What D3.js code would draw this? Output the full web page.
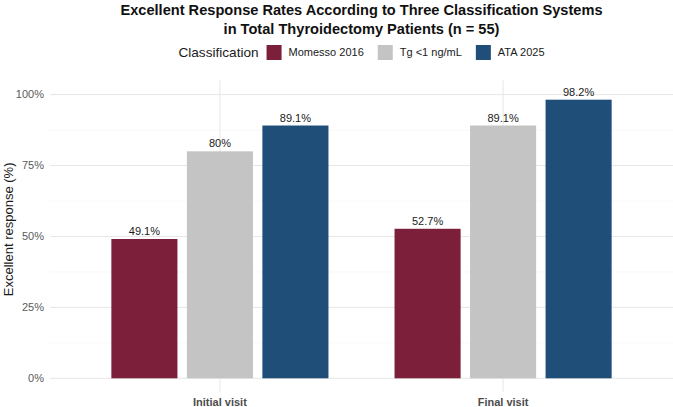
<!DOCTYPE html>
<html>
<head>
<meta charset="utf-8">
<script src="https://cdn.jsdelivr.net/npm/d3@7"></script>
<style>
  body { margin: 0; background: #fff; }
  svg { display: block; font-family: "Liberation Sans", Arial, sans-serif; }
</style>
</head>
<body>
<div id="chart"></div>
<script>
// --- data ---
const visits = ["Initial visit", "Final visit"];
const systems = ["Momesso 2016", "Tg <1 ng/mL", "ATA 2025"];
const momesso = [49.1, 52.7];
const tgBelow1 = [80, 89.1];
const ata2025 = [89.1, 98.2];
const yTicks = [0, 25, 50, 75, 100];
const yMinor = [12.5, 37.5, 62.5, 87.5];
const colors = ["#7B1F3A", "#C4C4C4", "#1F4E79"];

const seriesValues = [momesso, tgBelow1, ata2025];
const rows = [];
visits.forEach((v, i) => {
    systems.forEach((s, j) => rows.push({ visit: v, system: s, value: seriesValues[j][i] }));
});

// --- layout ---
const width = 673, height = 407;
const margin = { top: 80.4, right: 0, bottom: 28.7, left: 50 };
const panelW = width - margin.left - margin.right;
const panelH = height - margin.top - margin.bottom;

const svg = d3.select("#chart").append("svg")
    .attr("width", width).attr("height", height);

const x = d3.scaleBand().domain(visits).range([0, panelW]).paddingInner(0).paddingOuter(0.1);
const xInner = d3.scaleBand().domain(systems)
    .range([x.bandwidth() * 0.1, x.bandwidth() * 0.9])
    .paddingInner(0.125).paddingOuter(0.0625);
const y = d3.scaleLinear().domain([0, 105]).range([panelH, 0]);
const color = d3.scaleOrdinal().domain(systems).range(colors);

const g = svg.append("g").attr("transform", `translate(${margin.left},${margin.top})`);

// gridlines
g.selectAll(".minor").data(yMinor).join("line")
    .attr("x1", 0).attr("x2", panelW)
    .attr("y1", d => y(d)).attr("y2", d => y(d))
    .attr("stroke", "#f3f3f3").attr("stroke-width", 0.6);
g.selectAll(".major").data(yTicks).join("line")
    .attr("x1", 0).attr("x2", panelW)
    .attr("y1", d => y(d)).attr("y2", d => y(d))
    .attr("stroke", "#e6e6e6").attr("stroke-width", 1);
g.selectAll(".vgrid").data(visits).join("line")
    .attr("x1", d => x(d) + x.bandwidth() / 2).attr("x2", d => x(d) + x.bandwidth() / 2)
    .attr("y1", 0).attr("y2", panelH + 13.5)
    .attr("stroke", "#e6e6e6").attr("stroke-width", 1);

// bars
g.selectAll("rect.bar").data(rows).join("rect")
    .attr("class", "bar")
    .attr("x", d => x(d.visit) + xInner(d.system))
    .attr("width", xInner.bandwidth())
    .attr("y", d => y(d.value))
    .attr("height", d => y(0) - y(d.value))
    .attr("fill", d => color(d.system));

// value labels
g.selectAll("text.val").data(rows).join("text")
    .attr("x", d => x(d.visit) + xInner(d.system) + xInner.bandwidth() / 2)
    .attr("y", d => y(d.value) - 4)
    .attr("text-anchor", "middle")
    .attr("font-size", 11).attr("fill", "#1a1a1a")
    .text(d => d3.format(".3~")(d.value) + "%");

// y tick labels
g.selectAll("text.ytick").data(yTicks).join("text")
    .attr("x", -6).attr("y", d => y(d)).attr("dy", "0.35em")
    .attr("text-anchor", "end")
    .attr("font-size", 11).attr("fill", "#5a5a5a")
    .text(d => d + "%");

// x labels
g.selectAll("text.xlab").data(visits).join("text")
    .attr("x", d => x(d) + x.bandwidth() / 2).attr("y", panelH + 28)
    .attr("text-anchor", "middle")
    .attr("font-size", 11).attr("font-weight", "bold").attr("fill", "#4d4d4d")
    .text(d => d);

// y axis title
svg.append("text")
    .attr("transform", `translate(13,${margin.top + panelH / 2}) rotate(-90)`)
    .attr("text-anchor", "middle")
    .attr("font-size", 13).attr("fill", "#1a1a1a")
    .text("Excellent response (%)");

// title
const titleX = margin.left + panelW / 2;
svg.append("text").attr("x", titleX).attr("y", 14.5)
    .attr("text-anchor", "middle").attr("font-size", 14.6).attr("font-weight", "bold").attr("fill", "#111")
    .text("Excellent Response Rates According to Three Classification Systems");
svg.append("text").attr("x", titleX).attr("y", 34)
    .attr("text-anchor", "middle").attr("font-size", 14.6).attr("font-weight", "bold").attr("fill", "#111")
    .text("in Total Thyroidectomy Patients (n = 55)");

// legend
const legend = svg.append("g");
const lgTitle = legend.append("text").attr("x", 0).attr("y", 57)
    .attr("font-size", 13.6).attr("fill", "#1a1a1a").text("Classification");
let cx = lgTitle.node().getComputedTextLength() + 8;
systems.forEach((s, i) => {
    legend.append("rect").attr("x", cx).attr("y", 45).attr("width", 15).attr("height", 15)
        .attr("fill", color(s));
    cx += 15 + 7;
    const t = legend.append("text").attr("x", cx).attr("y", 52).attr("dy", "0.35em")
        .attr("font-size", 11).attr("fill", "#1a1a1a").text(s);
    cx += t.node().getComputedTextLength() + 14;
});
cx -= 14;
legend.attr("transform", `translate(${titleX - cx / 2},0)`);
</script>
</body>
</html>
